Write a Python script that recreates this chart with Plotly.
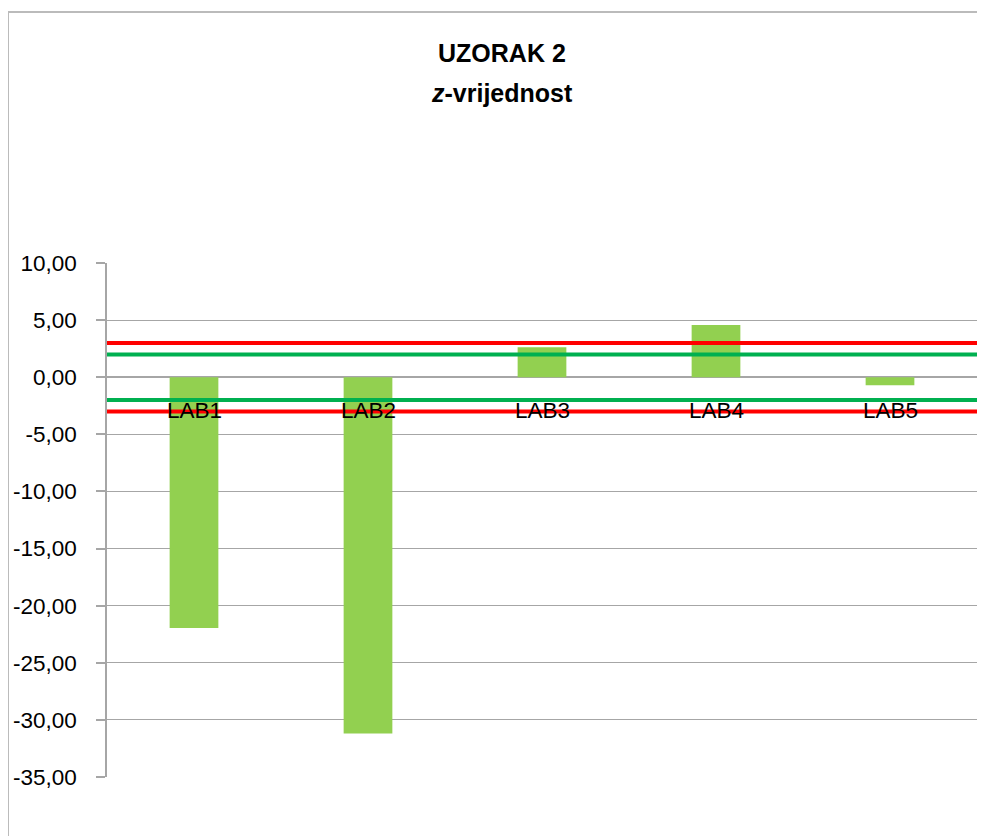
import plotly.graph_objects as go

categories = ["LAB1", "LAB2", "LAB3", "LAB4", "LAB5"]
z_values = [-21.95, -31.2, 2.63, 4.57, -0.7]
red_limits = [3, -3]
green_limits = [2, -2]
y_ticks = [10, 5, 0, -5, -10, -15, -20, -25, -30, -35]
y_tick_labels = ["10,00", "5,00", "0,00", "-5,00", "-10,00", "-15,00", "-20,00", "-25,00", "-30,00", "-35,00"]
y_min, y_max = -35, 10
title_lines = ["<b>UZORAK 2</b>", "<b><i>z</i>-vrijednost</b>"]

OFF = 8  # page body offset
W, H = 985 - OFF, 836 - OFF
ML, MR, MT, MB = 107 - OFF, 8, 263 - OFF, 59
font_family = "Liberation Sans, Arial, sans-serif"
pw, ph = W - ML - MR, H - MT - MB

fig = go.Figure()
fig.add_trace(go.Bar(x=categories, y=z_values, marker_color="#92D050",
                     marker_line_width=0, showlegend=False))

shapes = []
for v in red_limits:
    shapes.append(dict(type="line", xref="paper", yref="y", x0=0, x1=1, y0=v, y1=v,
                       line=dict(color="#FF0000", width=4), layer="above"))
for v in green_limits:
    shapes.append(dict(type="line", xref="paper", yref="y", x0=0, x1=1, y0=v, y1=v,
                       line=dict(color="#00B050", width=4), layer="above"))

# outer chart border (page px 8,12 -> beyond right/bottom)
shapes.append(dict(type="rect", xref="paper", yref="paper",
                   x0=(8 - OFF - ML) / pw, x1=(W + 20 - ML) / pw,
                   y0=-(H + 20 - MT - ph) / ph, y1=1 + (MT - (12 - OFF)) / ph,
                   line=dict(color="#BBBBBB", width=2), fillcolor="rgba(0,0,0,0)", layer="below"))

annotations = []
title_y_px = [53 - OFF, 93 - OFF]
for txt, ypx in zip(title_lines, title_y_px):
    annotations.append(dict(text=txt, xref="paper", yref="paper",
                            x=(502 - OFF - ML) / pw, y=1 + (MT - ypx) / ph,
                            xanchor="center", yanchor="middle", showarrow=False,
                            font=dict(family=font_family, size=25, color="black")))

# category labels at the zero crossing, drawn above the limit lines
for cat in categories:
    annotations.append(dict(text=cat, x=cat, y=0, xref="x", yref="y",
                            xanchor="center", yanchor="top", yshift=-19,
                            showarrow=False,
                            font=dict(family=font_family, size=22.5, color="black")))

fig.update_layout(
    width=W, height=H,
    margin=dict(l=ML, r=MR, t=MT, b=MB, autoexpand=False),
    paper_bgcolor="white", plot_bgcolor="white",
    bargap=0.72,
    shapes=shapes,
    annotations=annotations,
    font=dict(family=font_family, size=22, color="black"),
    xaxis=dict(showline=False, ticks="", showticklabels=False,
               showgrid=False, zeroline=False, automargin=False),
    yaxis=dict(range=[y_min, y_max], tickvals=y_ticks, ticktext=y_tick_labels,
               showgrid=True, gridcolor="#A6A6A6", gridwidth=1,
               zeroline=True, zerolinecolor="#A6A6A6", zerolinewidth=1.5,
               showline=True, linecolor="#A6A6A6", linewidth=1.5,
               ticks="outside", ticklen=9, tickcolor="#A6A6A6", tickwidth=1.5,
               ticklabelstandoff=15, automargin=False,
               tickfont=dict(size=22.5, color="black")),
)

fig.write_html("out.html")
